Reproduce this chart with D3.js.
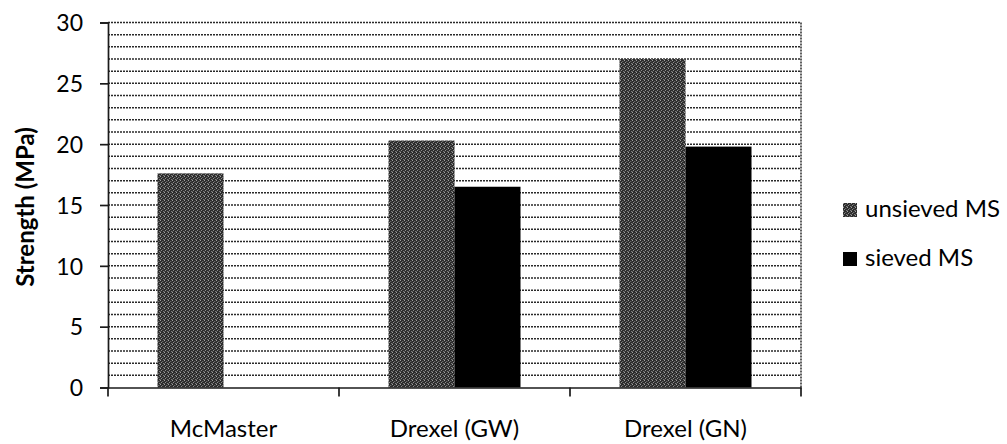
<!DOCTYPE html>
<html>
<head>
<meta charset="utf-8">
<script src="https://cdn.jsdelivr.net/npm/d3@7"></script>
<style>
  html, body { margin: 0; padding: 0; background: #fff; }
  svg { display: block; }
  text { font-family: Lato, "Open Sans", "DejaVu Sans", sans-serif; fill: #000; }
</style>
</head>
<body>
<svg id="chart" width="1007" height="444"></svg>
<script>
const categories = ["McMaster", "Drexel (GW)", "Drexel (GN)"];
const seriesNames = ["unsieved MS", "sieved MS"];
const unsieved = [17.6, 20.3, 27.0];
const sieved = [null, 16.5, 19.8];
const yTicks = [0, 5, 10, 15, 20, 25, 30];
const yTitle = "Strength (MPa)";

const svg = d3.select("#chart");
const plot = { left: 108, right: 801, top: 22.5, bottom: 387.5 };

// speckled grey texture used by the "unsieved" series
const defs = svg.append("defs");
const pat = defs.append("pattern").attr("id", "speckle")
  .attr("patternUnits", "userSpaceOnUse").attr("width", 4).attr("height", 4);
pat.append("rect").attr("width", 4).attr("height", 4).attr("fill", "#2c2c2c");
[[0,0,"#a0a0a0"],[2,1,"#6a6a6a"],[1,2,"#8c8c8c"],[3,3,"#7a7a7a"],[3,1,"#444"],[0,3,"#555"]].forEach(([x,y,c]) =>
  pat.append("rect").attr("x", x).attr("y", y).attr("width", 1).attr("height", 1).attr("fill", c));

const y = d3.scaleLinear().domain([0, 30]).range([plot.bottom, plot.top]);
const x0 = d3.scaleBand().domain(categories).range([plot.left, plot.right]).paddingInner(0).paddingOuter(0);
const bw = 66;
const x1 = d3.scaleBand().domain(seriesNames).range([x0.bandwidth()/2 - bw, x0.bandwidth()/2 + bw]).padding(0);

// minor gridlines every 1 MPa
svg.append("g").selectAll("line").data(d3.range(1, 31)).join("line")
  .attr("x1", plot.left).attr("x2", plot.right)
  .attr("y1", d => y(d)).attr("y2", d => y(d))
  .attr("stroke", "#2a2a2a").attr("stroke-width", 1.5)
  .attr("stroke-dasharray", "2,1");

// right border (dotted)
svg.append("line").attr("x1", plot.right).attr("x2", plot.right)
  .attr("y1", plot.top).attr("y2", plot.bottom)
  .attr("stroke", "#2a2a2a").attr("stroke-width", 1.5).attr("stroke-dasharray", "2,1");

// bars
const data = [];
categories.forEach((c, i) => {
  data.push({ cat: c, s: seriesNames[0], v: unsieved[i] });
  if (sieved[i] != null) data.push({ cat: c, s: seriesNames[1], v: sieved[i] });
});
svg.append("g").selectAll("rect").data(data).join("rect")
  .attr("x", d => x0(d.cat) + x1(d.s))
  .attr("width", x1.bandwidth())
  .attr("y", d => y(d.v))
  .attr("height", d => y(0) - y(d.v))
  .attr("fill", d => d.s === seriesNames[0] ? "url(#speckle)" : "#000");

// y axis
const yAxis = d3.axisLeft(y).tickValues(yTicks).tickSize(8).tickPadding(17);
const gy = svg.append("g").attr("transform", `translate(${plot.left},0)`).call(yAxis);
gy.select(".domain").attr("stroke", "#1a1a1a").attr("stroke-width", 1.7);
gy.selectAll(".tick line").attr("stroke", "#1a1a1a").attr("stroke-width", 1.7);
gy.selectAll(".tick text").attr("font-size", 23).attr("font-family", "Lato, sans-serif").attr("dy", "0.36em");

// x axis
const gx = svg.append("g").attr("transform", `translate(0,${plot.bottom})`)
  .call(d3.axisBottom(x0).tickSize(0).tickFormat(() => ""));
gx.select(".domain").attr("stroke", "#1a1a1a").attr("stroke-width", 1.7);
gx.selectAll(".tick").remove();
const bounds = categories.map(c => x0(c)).concat([plot.right]);
gx.selectAll("line.bt").data(bounds).join("line").attr("class", "bt")
  .attr("x1", d => d).attr("x2", d => d).attr("y1", 0).attr("y2", 9)
  .attr("stroke", "#1a1a1a").attr("stroke-width", 1.7);
svg.append("g").selectAll("text").data(categories).join("text")
  .attr("x", d => x0(d) + x0.bandwidth()/2)
  .attr("y", 437)
  .attr("text-anchor", "middle")
  .attr("font-size", 24)
  .text(d => d);

// y title
svg.append("text")
  .attr("transform", `translate(34,207) rotate(-90)`)
  .attr("text-anchor", "middle")
  .attr("font-size", 24)
  .attr("font-weight", "bold")
  .text(yTitle);

// legend
const lg = svg.append("g").selectAll("g").data(seriesNames).join("g")
  .attr("transform", (d, i) => `translate(843,${203 + i * 49})`);
lg.append("rect").attr("width", 14).attr("height", 14)
  .attr("fill", (d, i) => i === 0 ? "url(#speckle)" : "#000");
lg.append("text").attr("x", 22).attr("y", 14).attr("font-size", 24).text(d => d);
</script>
</body>
</html>
